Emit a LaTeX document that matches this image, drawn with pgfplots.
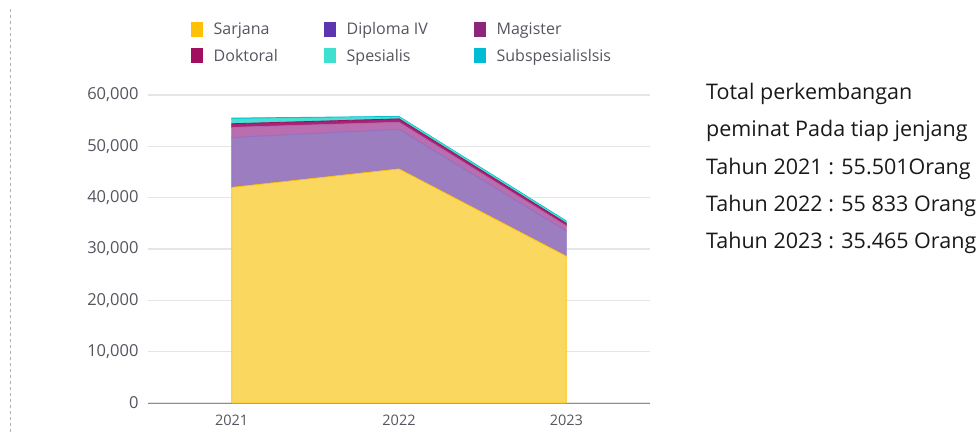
\documentclass[border=0pt]{standalone}
\usepackage{pgfplots}
\pgfplotsset{compat=1.18}
\usepackage{fontspec}
\setmainfont{Open Sans}
\definecolor{lsar}{HTML}{FFC107}
\definecolor{fsar}{RGB}{250,215,95}
\definecolor{ldip}{HTML}{5E35B1}
\definecolor{fdip}{RGB}{155,125,192}
\definecolor{lmag}{HTML}{8E2480}
\definecolor{fmag}{RGB}{185,110,175}
\definecolor{ldok}{HTML}{A0105E}
\definecolor{fdok}{RGB}{165,35,120}
\definecolor{lspe}{HTML}{40E0D0}
\definecolor{fspe}{RGB}{75,222,210}
\definecolor{lsub}{HTML}{00BCD4}
\definecolor{fsub}{RGB}{20,190,210}
\definecolor{ticktext}{RGB}{85,85,95}
\pgfplotsset{ser/.style n args={3}{fill=#1, draw=#2, line width=0.8pt,
  legend image code/.code={\fill[#3] (0pt,-7pt) rectangle (11pt,7pt); \path (20pt,0pt);}}}
\begin{document}
\begin{tikzpicture}[x=1pt,y=1pt]
\path[use as bounding box] (0,0) rectangle (980,432);
\draw[dashed, black!30, line width=0.8pt] (10,0) -- (10,425);
\begin{axis}[at={(148pt,29pt)}, anchor=south west, scale only axis,
  width=502pt, height=308pt,
  xmin=2020.5, xmax=2023.5, ymin=0, ymax=60000,
  stack plots=y,
  axis x line*=bottom, axis y line*=left,
  y axis line style={draw=none},
  x axis line style={draw=black!45, line width=1pt},
  major tick length=0pt,
  xtick={2021,2022,2023}, xticklabels={2021,2022,2023},
  ytick={0,10000,20000,30000,40000,50000,60000},
  scaled y ticks=false,
  /pgf/number format/assume math mode=true,
  /pgf/number format/fixed,
  /pgf/number format/1000 sep={,},
  ticklabel style={text=ticktext},
  yticklabel style={xshift=-6pt, font=\fontsize{16.5}{18}\selectfont},
  xticklabel style={yshift=-8pt, font=\fontsize{14.5}{16}\selectfont},
  ymajorgrids, grid style={line width=1.5pt, color=black!10},
  legend style={at={(0.085,1.243)}, anchor=north west, draw=none, fill=none,
    inner sep=0pt,
    font=\fontsize{16}{18}\selectfont, text=ticktext,
    /tikz/every even column/.append style={column sep=44pt},
    row sep=9pt},
  legend columns=3,
  legend cell align=left,
]
\addplot[ser={fsar}{lsar}{lsar}] coordinates {(2021,42000) (2022,45600) (2023,28600)} \closedcycle;
\addlegendentry{Sarjana}
\addplot[ser={fdip}{ldip!70}{ldip}] coordinates {(2021,9700) (2022,7700) (2023,4900)} \closedcycle;
\addlegendentry{Diploma IV}
\addplot[ser={fmag}{lmag!70}{lmag}] coordinates {(2021,2000) (2022,1400) (2023,1000)} \closedcycle;
\addlegendentry{Magister}
\addplot[ser={fdok}{ldok}{ldok}] coordinates {(2021,700) (2022,650) (2023,500)} \closedcycle;
\addlegendentry{Doktoral}
\addplot[ser={fspe}{lspe}{lspe}] coordinates {(2021,900) (2022,350) (2023,300)} \closedcycle;
\addlegendentry{Spesialis}
\addplot[ser={fsub}{lsub}{lsub}] coordinates {(2021,201) (2022,133) (2023,165)} \closedcycle;
\addlegendentry{Subspesialislsis}
\end{axis}
\node[anchor=north west, align=left, font=\fontsize{21.5}{37.3}\selectfont, text=black!90, inner sep=0pt]
  at (706,349) {Total perkembangan\\peminat Pada tiap jenjang\\Tahun 2021 : 55.501Orang\\Tahun 2022 : 55 833 Orang\\Tahun 2023 : 35.465 Orang};
\end{tikzpicture}
\end{document}
